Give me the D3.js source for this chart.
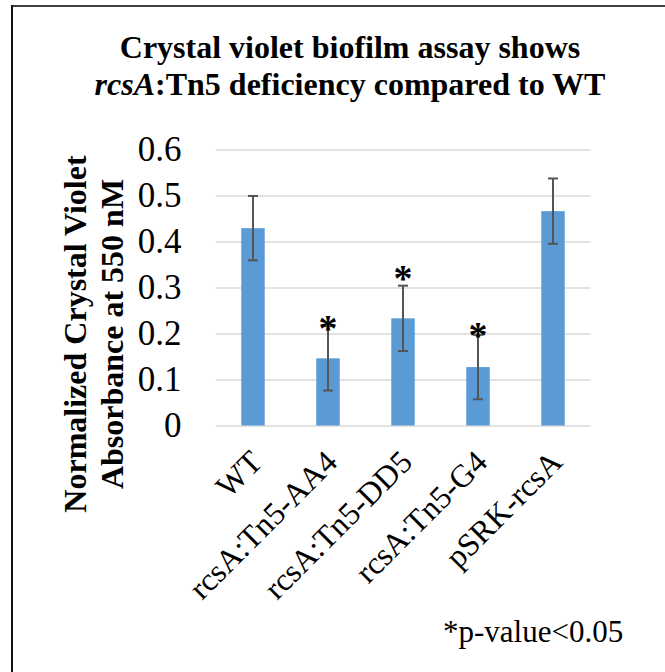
<!DOCTYPE html>
<html>
<head>
<meta charset="utf-8">
<script src="https://cdn.jsdelivr.net/npm/d3@7"></script>
<style>
  body { margin: 0; background: #fff; }
  text { font-family: "Liberation Serif", "Times New Roman", serif; fill: #000; }
</style>
</head>
<body>
<svg id="chart" width="665" height="672"></svg>
<script>
// values
var strains = ["WT", "rcsA:Tn5-AA4", "rcsA:Tn5-DD5", "rcsA:Tn5-G4", "pSRK-rcsA"];
var absorbance = [0.429, 0.146, 0.233, 0.127, 0.466];
var stdErr = [0.070, 0.070, 0.071, 0.070, 0.071];
// level (in absorbance units) where the significance star sits, null = no star
var starLevel = [null, 0.225, 0.333, 0.21, null];
var yTicks = [0, 0.1, 0.2, 0.3, 0.4, 0.5, 0.6];

var svg = d3.select("#chart");
var plotL = 215.5, plotR = 590.5, plotT = 149.5, plotB = 425.5;

// frame of the slide (only top and left edges show)
svg.append("line").attr("x1", 11).attr("x2", 665).attr("y1", 6).attr("y2", 6)
  .attr("stroke", "#404040").attr("stroke-width", 2);
svg.append("line").attr("x1", 12).attr("x2", 12).attr("y1", 5).attr("y2", 672)
  .attr("stroke", "#111").attr("stroke-width", 2);

var x = d3.scaleBand().domain(strains).range([plotL, plotR])
  .paddingInner(0.687).paddingOuter(0.687 / 2);
var y = d3.scaleLinear().domain([0, 0.6]).range([plotB, plotT]);

// title
var title = svg.append("text").attr("text-anchor", "middle")
  .style("font-size", "32px").style("font-weight", "bold");
title.append("tspan").attr("x", 350).attr("y", 58).text("Crystal violet biofilm assay shows");
var t2 = title.append("tspan").attr("x", 350).attr("y", 95);
t2.append("tspan").style("font-style", "italic").text("rcsA");
t2.append("tspan").text(":Tn5 deficiency compared to WT");

// y axis + gridlines
var yAxis = d3.axisLeft(y).tickValues(yTicks)
  .tickSizeInner(-(plotR - plotL)).tickSizeOuter(0).tickPadding(34)
  .tickFormat(function (d) { return d === 0 ? "0" : d3.format(".1f")(d); });
var gy = svg.append("g").attr("transform", "translate(" + plotL + ",0)").call(yAxis);
gy.select(".domain").remove();
gy.selectAll(".tick line").attr("stroke", "#d9d9d9").attr("stroke-width", 1.5);
gy.selectAll(".tick text").style("font-size", "35px")
  .style("font-family", "'Liberation Serif', 'Times New Roman', serif");

// y axis title
var yt = svg.append("text").attr("text-anchor", "middle")
  .attr("transform", "translate(0,334) rotate(-90)")
  .style("font-size", "32px").style("font-weight", "bold");
yt.append("tspan").attr("x", 0).attr("y", 86).text("Normalized Crystal Violet");
yt.append("tspan").attr("x", 0).attr("y", 123).text("Absorbance at 550 nM");

// bars
svg.selectAll("rect.bar").data(strains).enter().append("rect")
  .attr("class", "bar")
  .attr("x", function (d) { return x(d); })
  .attr("width", x.bandwidth())
  .attr("y", function (d, i) { return y(absorbance[i]); })
  .attr("height", function (d, i) { return y(0) - y(absorbance[i]); })
  .attr("fill", "#5b9bd5");

// error bars
var eb = svg.selectAll("g.err").data(strains).enter().append("g").attr("class", "err")
  .attr("stroke", "#555").attr("stroke-width", 2);
eb.append("line")
  .attr("x1", function (d) { return x(d) + x.bandwidth() / 2; })
  .attr("x2", function (d) { return x(d) + x.bandwidth() / 2; })
  .attr("y1", function (d, i) { return y(absorbance[i] + stdErr[i]); })
  .attr("y2", function (d, i) { return y(absorbance[i] - stdErr[i]); });
[1, -1].forEach(function (s) {
  eb.append("line")
    .attr("x1", function (d) { return x(d) + x.bandwidth() / 2 - 5; })
    .attr("x2", function (d) { return x(d) + x.bandwidth() / 2 + 5; })
    .attr("y1", function (d, i) { return y(absorbance[i] + s * stdErr[i]); })
    .attr("y2", function (d, i) { return y(absorbance[i] + s * stdErr[i]); });
});

// significance stars
svg.selectAll("text.star").data(strains.filter(function (d, i) { return starLevel[i] != null; }))
  .enter().append("text").attr("class", "star")
  .attr("text-anchor", "middle")
  .attr("x", function (d) { return x(d) + x.bandwidth() / 2; })
  .attr("y", function (d) { return y(starLevel[strains.indexOf(d)]) + 19; })
  .style("font-size", "38px").style("font-weight", "bold")
  .text("*");

// category labels
svg.selectAll("text.cat").data(strains).enter().append("text")
  .attr("class", "cat")
  .attr("text-anchor", "end")
  .attr("transform", function (d) {
    return "translate(" + (x(d) + x.bandwidth() / 2 + 11) + ",464) rotate(-45)";
  })
  .style("font-size", "32px")
  .text(function (d) { return d; });

// footnote
svg.append("text").attr("x", 443).attr("y", 642)
  .style("font-size", "31px").text("*p-value<0.05");
</script>
</body>
</html>
